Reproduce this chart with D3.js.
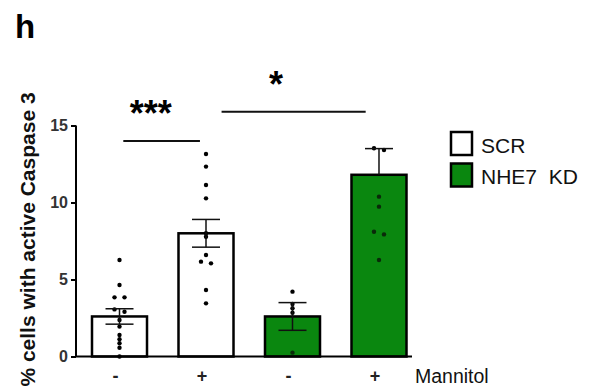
<!DOCTYPE html>
<html><head><meta charset="utf-8">
<script src="https://cdn.jsdelivr.net/npm/d3@7"></script>
<style>body{margin:0;background:#fff}svg{display:block}text{font-family:"Liberation Sans",Arial,sans-serif}</style>
</head><body>
<script>
// ---- data ----
const groups = ["SCR -", "SCR +", "KD -", "KD +"];
const mannitolLabels = ["-", "+", "-", "+"];
const seriesOfGroup = ["SCR", "SCR", "NHE7  KD", "NHE7  KD"];
const means = [2.6, 8.0, 2.6, 11.8];
const sems = [0.5, 0.9, 0.9, 1.7];
const showLowerErr = [true, true, true, false];
const dots0 = [6.27, 4.64, 3.84, 3.84, 3.06, 2.91, 2.37, 1.94, 1.40, 1.12, 0.86, 0.57, 0.0];
const dots1 = [13.15, 12.33, 11.14, 10.27, 8.0, 7.78, 6.59, 6.16, 6.05, 4.32, 3.45];
const dots2 = [4.21, 3.41, 3.13, 2.84, 0.25];
const dots3 = [13.52, 13.41, 10.38, 9.73, 8.1, 7.93, 6.27];
const dotsByGroup = [dots0, dots1, dots2, dots3];
const yTicks = [0, 5, 10, 15];
const legendItems = ["SCR", "NHE7  KD"];
const sigLabels = ["***", "*"];
const sigLevels = [14.0, 15.9];
const sigFrom = [0.044, 1.18];
const sigTo = [0.93, 2.846];
const sigLabelAt = [0.36, 1.81];
const GREEN = "#0a870f";

const W = 597, H = 387;
const svg = d3.select("body").append("svg").attr("width", W).attr("height", H);

const y = d3.scaleLinear().domain([0, 15]).range([356.5, 125.5]);
const x = d3.scaleBand().domain(groups).range([92, 406.5]).paddingInner(0.364).paddingOuter(0);
const bw = x.bandwidth();
const cx = i => x(groups[i]) + bw / 2;
const gi = d3.scaleLinear().domain([0, 3]).range([cx(0), cx(3)]);
const fillOf = s => s === "SCR" ? "#fff" : GREEN;

// title
svg.append("text").attr("x", 15).attr("y", 38).attr("font-size", 33).attr("font-weight", "bold").text("h");

// y axis label
svg.append("text").attr("transform", "translate(35,239.5) rotate(-90)")
  .attr("text-anchor", "middle").attr("font-size", 21).attr("font-weight", "bold").attr("fill", "#111")
  .text("% cells with active Caspase 3");

// bars
svg.selectAll("rect.bar").data(groups).join("rect").attr("class", "bar")
  .attr("x", d => x(d)).attr("width", bw)
  .attr("y", (d, i) => y(means[i])).attr("height", (d, i) => y(0) - y(means[i]))
  .attr("fill", (d, i) => fillOf(seriesOfGroup[i])).attr("stroke", "#000").attr("stroke-width", 2.5);

// dots
groups.forEach((g, i) => {
  const vals = dotsByGroup[i];
  const pts = vals.map((v, k) => {
    let off = 0;
    const twin = vals.findIndex((w, j) => j !== k && Math.abs(w - v) < 0.2);
    if (twin >= 0) off = twin > k ? -5 : 5;
    return { v, off };
  });
  svg.selectAll(null).data(pts).join("circle")
    .attr("cx", d => cx(i) + d.off).attr("cy", d => y(d.v)).attr("r", 2.2)
    .attr("fill", seriesOfGroup[i] === "SCR" ? "#000" : (d => d.v < means[i] ? "#0a2a0a" : "#000"));
});

// error bars
const capW = 28;
groups.forEach((g, i) => {
  const c = cx(i);
  const top = y(means[i] + sems[i]);
  const bot = y(means[i] - sems[i]);
  const col = "#111";
  svg.append("line").attr("x1", c).attr("x2", c).attr("y1", top).attr("y2", showLowerErr[i] ? bot : y(means[i]))
    .attr("stroke", col).attr("stroke-width", 1.5);
  svg.append("line").attr("x1", c - capW / 2).attr("x2", c + capW / 2).attr("y1", top).attr("y2", top)
    .attr("stroke", col).attr("stroke-width", 1.5);
  if (showLowerErr[i]) {
    svg.append("line").attr("x1", c - capW / 2).attr("x2", c + capW / 2).attr("y1", bot).attr("y2", bot)
      .attr("stroke", col).attr("stroke-width", 1.5);
  }
});

// y axis
const yAxis = svg.append("g").attr("transform", "translate(76,0)")
  .call(d3.axisLeft(y).tickValues(yTicks).tickSize(5).tickPadding(3));
yAxis.select(".domain").attr("stroke", "#000").attr("stroke-width", 2).attr("d", `M0,${y(15)}V${y(0)}`);
yAxis.selectAll(".tick line").attr("stroke", "#000").attr("stroke-width", 2);
yAxis.selectAll(".tick text").attr("font-size", 16).attr("font-weight", "bold").attr("fill", "#333")
  .attr("font-family", "Liberation Sans, Arial, sans-serif");

// x axis baseline
svg.append("line").attr("x1", 75).attr("x2", 412).attr("y1", y(0)).attr("y2", y(0))
  .attr("stroke", "#000").attr("stroke-width", 2);

// mannitol labels
svg.selectAll("text.mlab").data(mannitolLabels).join("text").attr("class", "mlab")
  .attr("x", (d, i) => cx(i) - 4).attr("y", 382).attr("text-anchor", "middle")
  .attr("font-size", 18).attr("font-weight", "bold").attr("fill", "#222").text(d => d);
svg.append("text").attr("x", 415).attr("y", 383).attr("font-size", 19.5).attr("fill", "#111").text("Mannitol");

// significance
sigLabels.forEach((s, k) => {
  svg.append("line").attr("x1", gi(sigFrom[k])).attr("x2", gi(sigTo[k]))
    .attr("y1", y(sigLevels[k])).attr("y2", y(sigLevels[k])).attr("stroke", "#111").attr("stroke-width", 2);
  svg.append("text").attr("x", gi(sigLabelAt[k])).attr("y", y(sigLevels[k]) - 15)
    .attr("text-anchor", "middle").attr("font-size", 36).attr("font-weight", "bold").text(s);
});

// legend
const lg = svg.append("g");
legendItems.forEach((s, k) => {
  const top = 132 + k * 31.5;
  lg.append("rect").attr("x", 451).attr("y", top).attr("width", 21).attr("height", 23)
    .attr("fill", fillOf(s)).attr("stroke", "#000").attr("stroke-width", 2.5);
  lg.append("text").attr("x", 481).attr("y", top + 20.5).attr("font-size", 21).attr("fill", "#111").text(s)
    .style("white-space", "pre");
});
</script>
</body></html>
